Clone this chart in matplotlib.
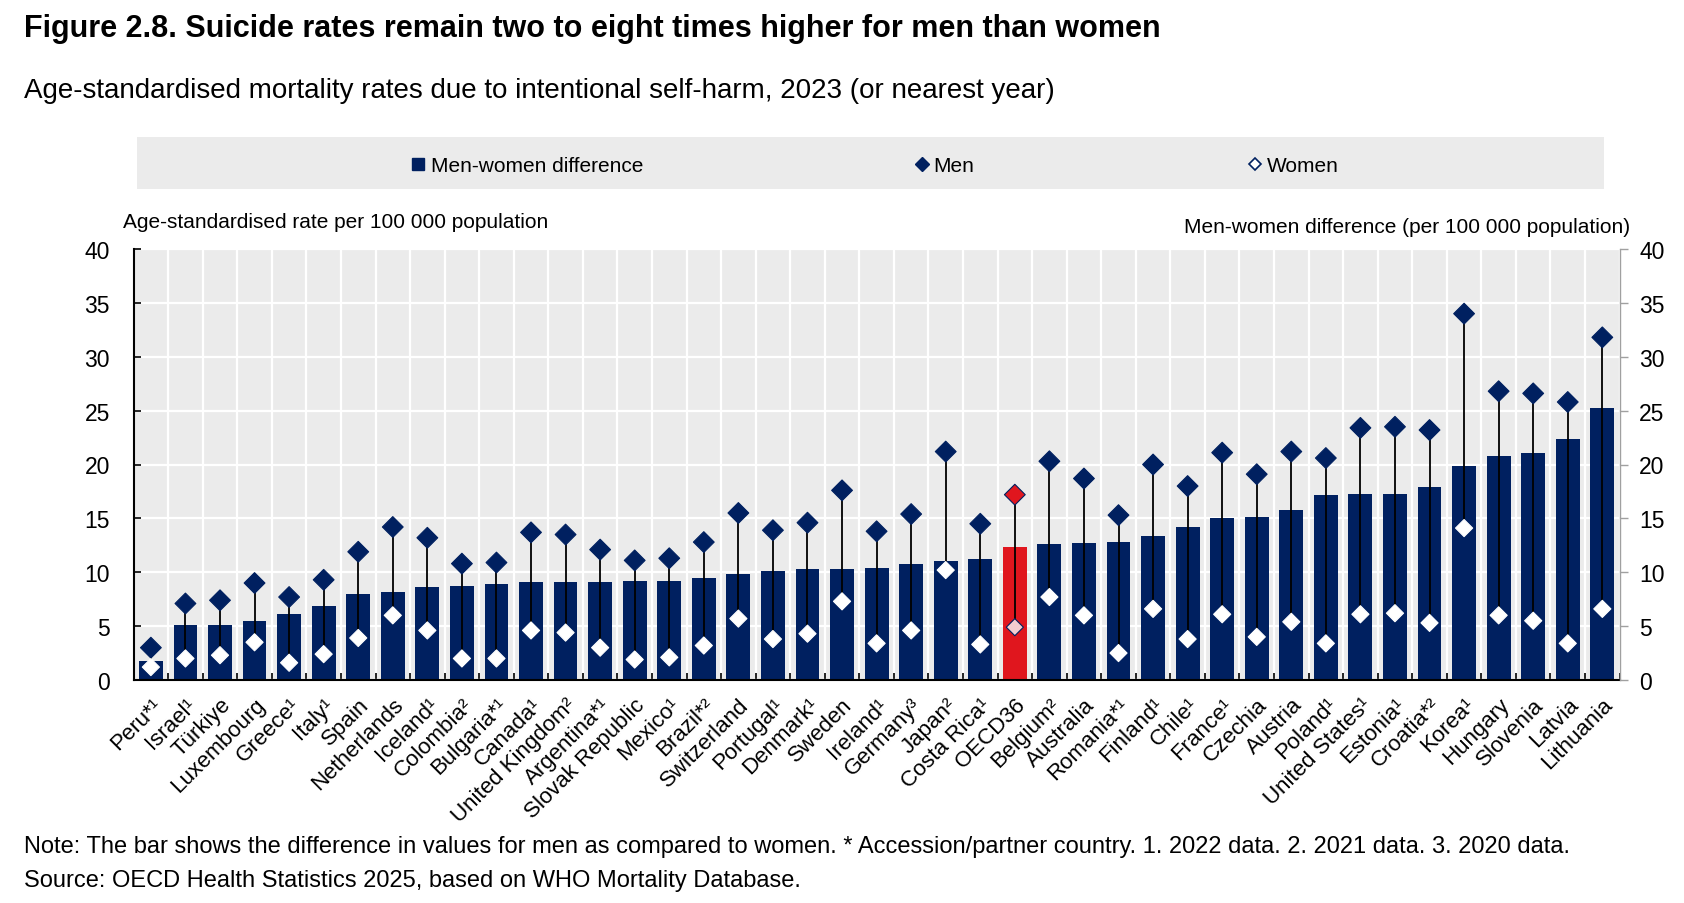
import matplotlib
matplotlib.use("Agg")
import matplotlib.pyplot as plt
import numpy as np

plt.rcParams['font.family'] = ['Liberation Sans', 'DejaVu Sans']

countries = ["Peru*¹", "Israel¹", "Türkiye", "Luxembourg", "Greece¹", "Italy¹", "Spain",
             "Netherlands", "Iceland¹", "Colombia²", "Bulgaria*¹", "Canada¹", "United Kingdom²",
             "Argentina*¹", "Slovak Republic", "Mexico¹", "Brazil*²", "Switzerland", "Portugal¹",
             "Denmark¹", "Sweden", "Ireland¹", "Germany³", "Japan²", "Costa Rica¹", "OECD36",
             "Belgium²", "Australia", "Romania*¹", "Finland¹", "Chile¹", "France¹", "Czechia",
             "Austria", "Poland¹", "United States¹", "Estonia¹", "Croatia*²", "Korea¹", "Hungary",
             "Slovenia", "Latvia", "Lithuania"]

diff = [1.8, 5.1, 5.1, 5.5, 6.1, 6.9, 8.0, 8.2, 8.6, 8.7, 8.9, 9.1, 9.1, 9.1, 9.2, 9.2, 9.5,
        9.8, 10.1, 10.3, 10.3, 10.4, 10.8, 11.0, 11.2, 12.3, 12.6, 12.7, 12.8, 13.4, 14.2, 15.0,
        15.1, 15.8, 17.2, 17.3, 17.3, 17.9, 19.9, 20.8, 21.1, 22.4, 25.2]
men = [3.0, 7.1, 7.4, 9.0, 7.7, 9.3, 11.9, 14.2, 13.2, 10.8, 10.9, 13.7, 13.5, 12.1, 11.1, 11.3,
       12.8, 15.5, 13.9, 14.6, 17.6, 13.8, 15.4, 21.2, 14.5, 17.2, 20.3, 18.7, 15.3, 20.0, 18.0,
       21.1, 19.1, 21.2, 20.6, 23.4, 23.5, 23.2, 34.0, 26.8, 26.6, 25.8, 31.8]
women = [1.2, 2.0, 2.3, 3.5, 1.6, 2.4, 3.9, 6.0, 4.6, 2.0, 2.0, 4.6, 4.4, 3.0, 1.9, 2.1,
         3.2, 5.7, 3.8, 4.3, 7.3, 3.4, 4.6, 10.2, 3.3, 4.9, 7.7, 6.0, 2.5, 6.6, 3.8,
         6.1, 4.0, 5.4, 3.4, 6.1, 6.2, 5.3, 14.1, 6.0, 5.5, 3.4, 6.6]
yticks = [0, 5, 10, 15, 20, 25, 30, 35, 40]

NAVY = '#002060'
RED = '#E0161E'
PINK = '#F4CCD0'
BG = '#EBEBEB'
FS_TICK = 16.5
FS_X = 16
FS_LAB = 15

fig = plt.figure(figsize=(16.84, 9.04), dpi=100)
W, H = 1684.0, 904.0

ax = fig.add_axes([133.6 / W, 1 - 681 / H, (1619.6 - 133.6) / W, (681 - 250) / H])
ax.set_facecolor(BG)
n = len(countries)
x = np.arange(n)
is_oecd = [c == 'OECD36' for c in countries]
bar_colors = [RED if o else NAVY for o in is_oecd]
men_fc = [RED if o else NAVY for o in is_oecd]
women_fc = [PINK if o else 'white' for o in is_oecd]
women_ec = [NAVY if o else 'white' for o in is_oecd]

ax.bar(x, diff, width=0.69, color=bar_colors, zorder=2)
ax.vlines(x, women, men, color='black', lw=1.3, zorder=3)
ax.scatter(x, men, marker='D', s=112, c=men_fc, edgecolors=NAVY, linewidths=0.8, zorder=4)
ax.scatter(x, women, marker='D', s=76, c=women_fc, edgecolors=women_ec, linewidths=0.8,
           zorder=4)

ax.set_xlim(-0.5, n - 0.5)
ax.set_ylim(0, 40)
ax.set_yticks(yticks)
ax.set_yticklabels([str(v) for v in yticks], fontsize=FS_TICK)
ax.set_xticks(x)
ax.set_xticklabels(countries, fontsize=FS_X, rotation=45, ha='right', va='top',
                   rotation_mode='anchor')
ax.set_xticks(np.arange(-0.5, n, 1.0), minor=True)
ax.tick_params(axis='x', which='major', length=0, pad=10)
ax.tick_params(axis='x', which='minor', direction='in', length=5, width=1.2, color='black')
ax.tick_params(axis='y', which='major', direction='in', length=5, width=1.2, pad=17,
               color='black')
ax.set_axisbelow(True)
ax.grid(axis='y', which='major', color='white', lw=1.6)
ax.grid(axis='x', which='minor', color='white', lw=1.6)
for s in ['top', 'right']:
    ax.spines[s].set_visible(False)
ax.spines['left'].set_linewidth(1.5)
ax.spines['bottom'].set_linewidth(1.5)

ax2 = ax.twinx()
ax2.set_ylim(0, 40)
ax2.set_yticks(yticks)
ax2.set_yticklabels([str(v) for v in yticks], fontsize=FS_TICK)
ax2.tick_params(axis='y', direction='out', length=6, width=1.0, color='#A0A0A0', pad=8)
for s in ['top', 'left', 'bottom']:
    ax2.spines[s].set_visible(False)
ax2.spines['right'].set_color('#A0A0A0')
ax2.spines['right'].set_linewidth(1.0)

# Legend band
lax = fig.add_axes([136.5 / W, 1 - 190 / H, (1604 - 136.5) / W, 52 / H])
lax.set_facecolor(BG)
lax.set_xlim(136.5, 1604)
lax.set_ylim(190, 138)
for s in lax.spines.values():
    s.set_visible(False)
lax.set_xticks([])
lax.set_yticks([])
lax.plot([418], [164.5], marker='s', ms=8.6, color=NAVY, ls='none')
lax.plot([921.5], [164.5], marker='D', ms=7.0, color=NAVY, ls='none')
lax.plot([1254.5], [164.5], marker='D', ms=6.5, mfc='white', mec=NAVY, mew=1.2, ls='none')
lax.text(431, 172.3, 'Men-women difference', fontsize=FS_LAB, va='baseline', ha='left')
lax.text(933, 172.3, 'Men', fontsize=FS_LAB, va='baseline', ha='left')
lax.text(1267, 172.3, 'Women', fontsize=FS_LAB, va='baseline', ha='left')

fig.text(23.6 / W, 1 - 36.5 / H,
         'Figure 2.8. Suicide rates remain two to eight times higher for men than women',
         fontsize=22, fontweight='bold', va='baseline', ha='left')
fig.text(23.6 / W, 1 - 98.3 / H,
         'Age-standardised mortality rates due to intentional self-harm, 2023 (or nearest year)',
         fontsize=20, va='baseline', ha='left')
fig.text(123.5 / W, 1 - 228.3 / H, 'Age-standardised rate per 100 000 population',
         fontsize=FS_LAB, va='baseline', ha='left')
fig.text(1630 / W, 1 - 232.7 / H, 'Men-women difference (per 100 000 population)',
         fontsize=FS_LAB, va='baseline', ha='right')
fig.text(23.6 / W, 1 - 853 / H,
         'Note: The bar shows the difference in values for men as compared to women. '
         '* Accession/partner country. 1. 2022 data. 2. 2021 data. 3. 2020 data.',
         fontsize=17, va='baseline', ha='left')
fig.text(23.6 / W, 1 - 887 / H,
         'Source: OECD Health Statistics 2025, based on WHO Mortality Database.',
         fontsize=17, va='baseline', ha='left')

fig.savefig('out.png', dpi=100)
